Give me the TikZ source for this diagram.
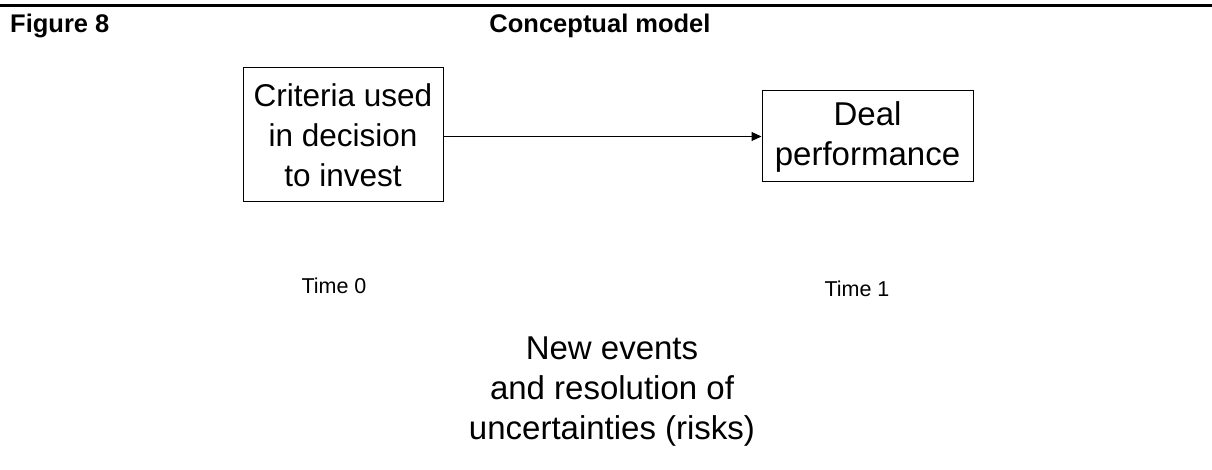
\documentclass[tikz,border=0pt]{standalone}
\usepackage{fontspec}
\setmainfont{Liberation Sans}
\usetikzlibrary{arrows.meta}
\begin{document}
\begin{tikzpicture}[x=1pt,y=-1pt,
  box/.style={draw, line width=1pt, inner sep=0pt, align=center, font=\fontsize{33}{40}\selectfont},
  lbl/.style={inner sep=0pt, font=\fontsize{21.5}{26}\selectfont},
  ttl/.style={inner sep=0pt, font=\fontsize{25.5}{30}\selectfont\bfseries},
  big/.style={inner sep=0pt, align=center, font=\fontsize{33}{40}\selectfont},
  conn/.style={line width=1pt, -{Triangle[length=10pt,width=9pt]}},
  rule/.style={line width=2.3pt}]
\useasboundingbox (0,0) rectangle (1212,470);
\coordinate (ruleL) at (0,5.5);
\coordinate (ruleR) at (1212,5.5);
\draw[rule] (ruleL) -- (ruleR);
\node[ttl, anchor=base west] (fig) at (10,32.5) {Figure 8};
\node[ttl, anchor=base] (cm) at (600,33) {Conceptual model};
\node[box, font=\fontsize{31.5}{40}\selectfont, minimum width=200pt, minimum height=134pt] (crit) at (343,135) {Criteria used\\in decision\\to invest};
\node[box, minimum width=211pt, minimum height=91pt] (deal) at (867.5,136.5) {Deal\\performance};
\draw[conn] (crit.east |- deal.west) -- (deal.west);
\node[lbl, anchor=base] (t0) at (334,293) {Time 0};
\node[lbl, anchor=base] (t1) at (857,296) {Time 1};
\node[big] (ev) at (612,392) {New events\\and resolution of\\uncertainties (risks)};
\end{tikzpicture}
\end{document}
